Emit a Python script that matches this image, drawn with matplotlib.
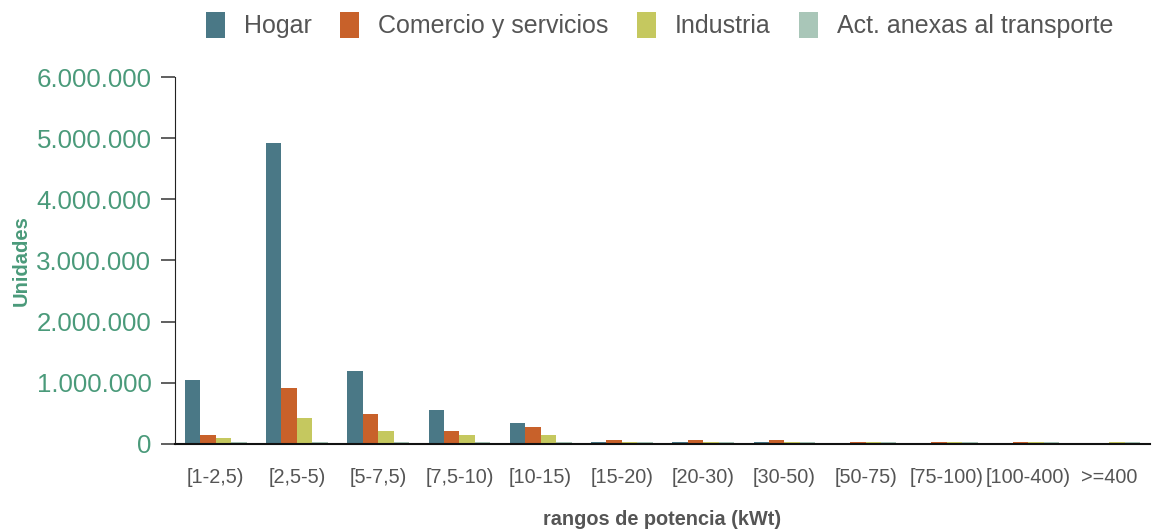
import numpy as np
from matplotlib import pyplot as plt
from matplotlib.ticker import FuncFormatter

plt.rcParams['font.family'] = ['Liberation Sans', 'DejaVu Sans']

categories = ['[1-2,5)', '[2,5-5)', '[5-7,5)', '[7,5-10)', '[10-15)', '[15-20)',
              '[20-30)', '[30-50)', '[50-75)', '[75-100)', '[100-400)', '>=400']
series_names = ['Hogar', 'Comercio y servicios', 'Industria', 'Act. anexas al transporte']

hogar = [1050000, 4920000, 1190000, 550000, 340000, 30000,
         30000, 30000, 0, 0, 0, 0]
comercio = [150000, 920000, 490000, 210000, 280000, 60000,
            60000, 60000, 30000, 30000, 30000, 0]
industria = [100000, 420000, 210000, 150000, 150000, 30000,
             30000, 30000, 30000, 30000, 30000, 30000]
transporte = [30000, 30000, 30000, 30000, 30000, 30000,
              30000, 30000, 30000, 30000, 30000, 30000]

colors = ['#4a7886', '#c8612a', '#c5c85f', '#a9c6b8']
green = '#4a9a7a'
grey = '#555555'

fig = plt.figure(figsize=(11.54, 5.30), dpi=100)
ax = fig.add_axes([0.1517, 0.1623, 0.8448, 0.6924])

x = np.arange(len(categories))
w = 0.19
for i, (vals, name) in enumerate(zip([hogar, comercio, industria, transporte], series_names)):
    ax.bar(x + (i - 1.5) * w, vals, width=w, color=colors[i], label=name)

ax.set_xlim(-0.5, 11.5)
ax.set_ylim(0, 6000000)
ax.set_yticks(np.arange(0, 6000001, 1000000))
ax.yaxis.set_major_formatter(FuncFormatter(lambda v, p: f'{int(v):,}'.replace(',', '.')))
ax.set_xticks(x)
ax.set_xticklabels(categories)

for s in ['top', 'right']:
    ax.spines[s].set_visible(False)
ax.spines['left'].set_color('#222222')
ax.spines['bottom'].set_color('#111111')
ax.spines['bottom'].set_linewidth(1.5)

ax.tick_params(axis='y', length=10, width=1.2, color='#444444', pad=7,
               labelsize=18.6, labelcolor=green)
ax.tick_params(axis='x', length=0, pad=17, labelsize=14.3, labelcolor=grey)

ax.set_ylabel('Unidades', fontsize=14.5, fontweight='bold', color=green, labelpad=4)
ax.set_xlabel('rangos de potencia (kWt)', fontsize=14.3, fontweight='bold',
              color=grey, labelpad=17)

leg = ax.legend(loc='center', bbox_to_anchor=(0.497, 1.142), ncol=4, frameon=False,
                fontsize=18, handlelength=0.75, handleheight=1.25, handletextpad=0.75,
                columnspacing=1.15)
for t in leg.get_texts():
    t.set_color(grey)

fig.savefig('out.png', dpi=100)
